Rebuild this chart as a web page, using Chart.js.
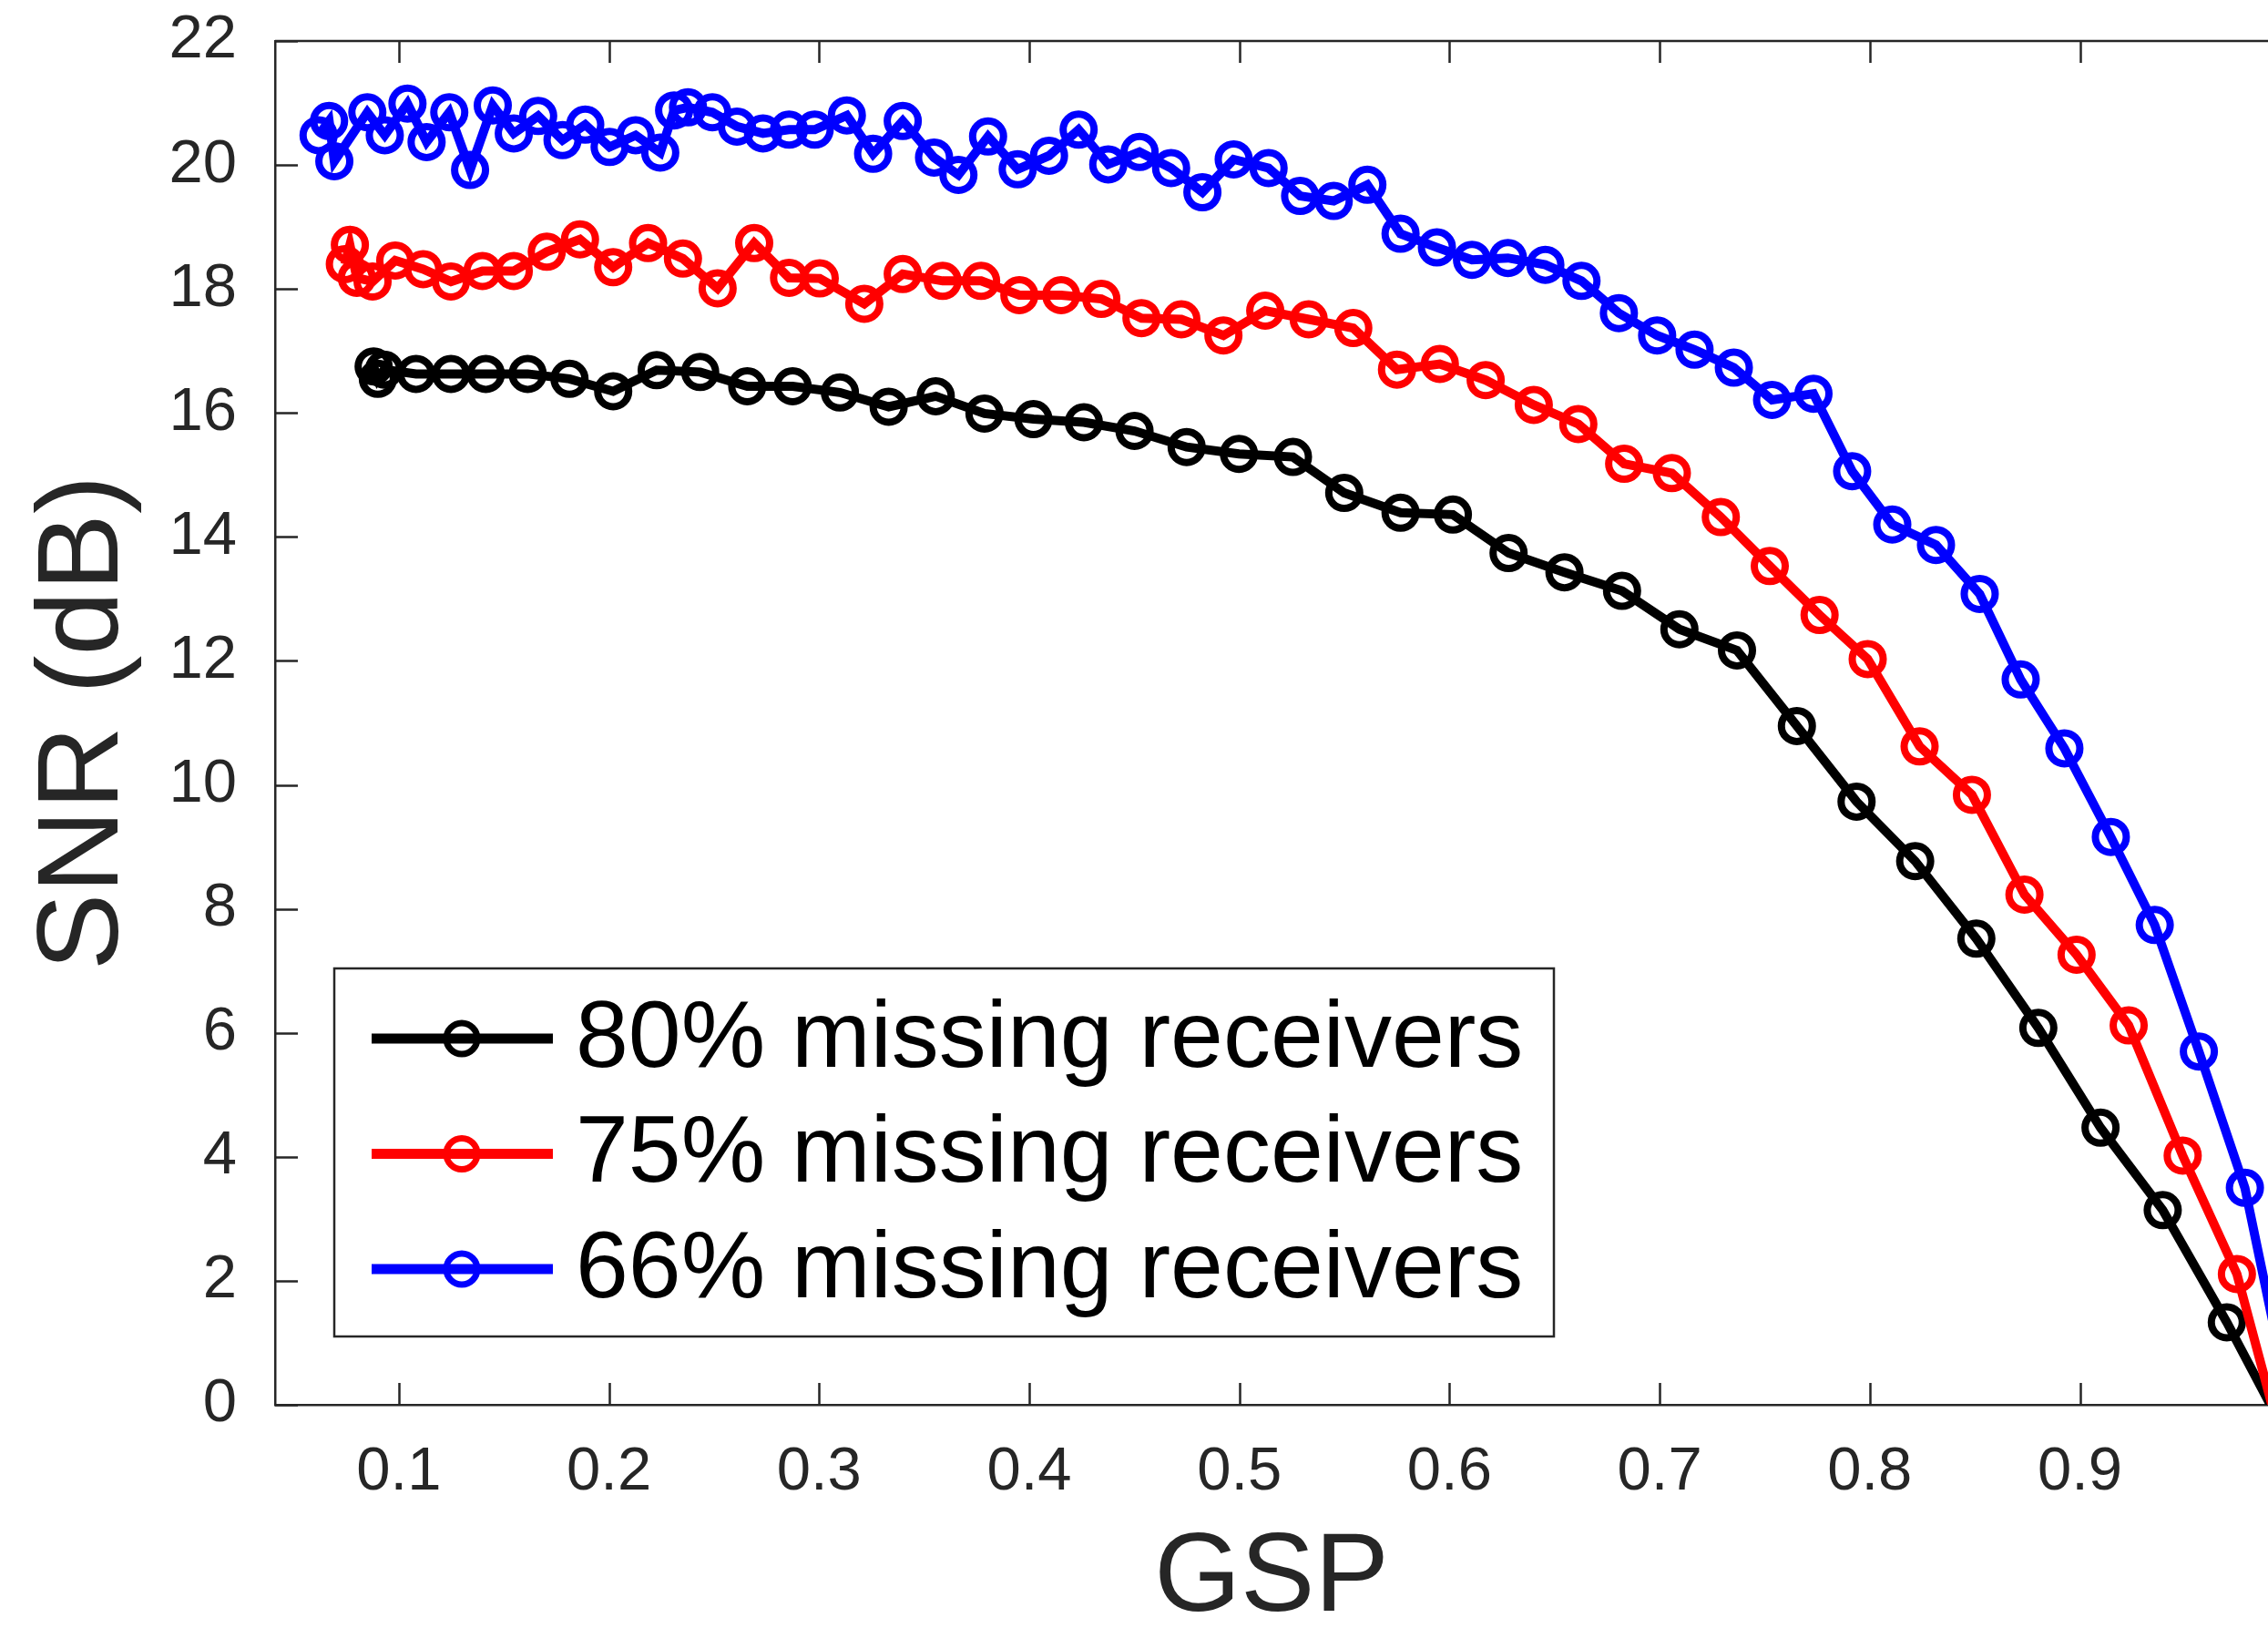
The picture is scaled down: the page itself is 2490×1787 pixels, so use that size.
<!DOCTYPE html>
<html>
<head>
<meta charset="utf-8">
<script src="https://cdn.jsdelivr.net/npm/chart.js@4.4.1/dist/chart.umd.min.js"></script>
<style>
html, body { margin: 0; padding: 0; background: #ffffff; }
#wrap { position: relative; width: 2490px; height: 1787px; }
canvas { display: block; }
</style>
</head>
<body>
<div id="wrap"><canvas id="c" width="2490" height="1787"></canvas></div>
<script>
// ---------------- data ----------------
const seriesNames = ['80% missing receivers', '75% missing receivers', '66% missing receivers'];
const seriesColors = ['#000000', '#ff0000', '#0000ff'];

const gsp80 = [0.0880, 0.0900, 0.0930, 0.1082, 0.1248, 0.1414, 0.1613, 0.1812, 0.2020, 0.2227,
  0.2434, 0.2658, 0.2874, 0.3099, 0.3331, 0.3555, 0.3787, 0.4020, 0.4260, 0.4501,
  0.4749, 0.4998, 0.5255, 0.5499, 0.5767, 0.6016, 0.6281, 0.6547, 0.6821, 0.7094,
  0.7368, 0.7653, 0.7937, 0.8216, 0.8507, 0.8802, 0.9098, 0.9394, 0.9699, 1.0];
const snr80 = [16.75, 16.55, 16.70, 16.63, 16.63, 16.63, 16.63, 16.55, 16.35, 16.69,
  16.66, 16.43, 16.43, 16.33, 16.10, 16.27, 15.99, 15.90, 15.85, 15.71,
  15.45, 15.34, 15.29, 14.71, 14.39, 14.36, 13.74, 13.43, 13.13, 12.51,
  12.17, 10.95, 9.73, 8.77, 7.52, 6.08, 4.47, 3.14, 1.33, -0.6];

const gsp75 = [0.0743, 0.0767, 0.0800, 0.0875, 0.0983, 0.1116, 0.1248, 0.1398, 0.1547, 0.1704,
  0.1862, 0.2020, 0.2186, 0.2352, 0.2517, 0.2691, 0.2857, 0.3003, 0.3215, 0.3398,
  0.3588, 0.3771, 0.3953, 0.4152, 0.4343, 0.4534, 0.4724, 0.4924, 0.5123, 0.5330,
  0.5542, 0.5750, 0.5954, 0.6172, 0.6401, 0.6613, 0.6831, 0.7058, 0.7291, 0.7524,
  0.7761, 0.7990, 0.8237, 0.8486, 0.8736, 0.8984, 0.9232, 0.9489, 0.9747, 1.0];
const snr75 = [18.40, 18.71, 18.18, 18.12, 18.46, 18.32, 18.12, 18.29, 18.29, 18.60,
  18.80, 18.35, 18.74, 18.49, 18.01, 18.74, 18.18, 18.17, 17.76, 18.24,
  18.13, 18.13, 17.90, 17.90, 17.84, 17.53, 17.51, 17.25, 17.65, 17.51,
  17.37, 16.70, 16.79, 16.53, 16.13, 15.82, 15.18, 15.03, 14.32, 13.53,
  12.74, 12.03, 10.62, 9.84, 8.23, 7.26, 6.12, 4.02, 2.11, -1.1];

const gsp66 = [0.0618, 0.0668, 0.0693, 0.0850, 0.0933, 0.1041, 0.1132, 0.1240, 0.1339, 0.1447,
  0.1547, 0.1663, 0.1779, 0.1887, 0.2003, 0.2127, 0.2244, 0.2310, 0.2376, 0.2492,
  0.2609, 0.2733, 0.2857, 0.2979, 0.3132, 0.3257, 0.3398, 0.3547, 0.3663, 0.3804,
  0.3945, 0.4094, 0.4235, 0.4376, 0.4525, 0.4675, 0.4824, 0.4973, 0.5139, 0.5289,
  0.5449, 0.5609, 0.5767, 0.5940, 0.6107, 0.6278, 0.6456, 0.6628, 0.6806, 0.6988,
  0.7166, 0.7353, 0.7535, 0.7732, 0.7916, 0.8107, 0.8315, 0.8523, 0.8718, 0.8926,
  0.9147, 0.9356, 0.9566, 0.9785, 1.0];
const snr66 = [20.48, 20.71, 20.06, 20.85, 20.48, 20.99, 20.37, 20.85, 19.92, 20.96,
  20.51, 20.79, 20.40, 20.65, 20.29, 20.48, 20.20, 20.88, 20.93, 20.85,
  20.62, 20.51, 20.57, 20.57, 20.80, 20.18, 20.71, 20.12, 19.84, 20.46,
  19.93, 20.15, 20.57, 20.01, 20.21, 19.95, 19.56, 20.09, 19.95, 19.50,
  19.42, 19.68, 18.89, 18.67, 18.47, 18.50, 18.39, 18.13, 17.61, 17.25,
  17.02, 16.73, 16.21, 16.31, 15.06, 14.20, 13.87, 13.08, 11.70, 10.59,
  9.16, 7.74, 5.70, 3.50, 0.0];

const xTickValues = [0.1, 0.2, 0.3, 0.4, 0.5, 0.6, 0.7, 0.8, 0.9];
const xTickLabels = ['0.1', '0.2', '0.3', '0.4', '0.5', '0.6', '0.7', '0.8', '0.9'];
const yTickValues = [0, 2, 4, 6, 8, 10, 12, 14, 16, 18, 20, 22];
const yTickLabels = ['0', '2', '4', '6', '8', '10', '12', '14', '16', '18', '20', '22'];
const xTitle = 'GSP';
const yTitle = 'SNR (dB)';
const xRange = [0.0411, 0.9895];
const yRange = [0, 22];

// ---------------- styling ----------------
const FONT = "'Liberation Sans', Arial, sans-serif";
const AXIS = '#262626';

function pairs(xs, ys) { return xs.map((x, i) => ({ x: x, y: ys[i] })); }
function labelFor(values, labels, v) {
  const i = values.findIndex(t => Math.abs(t - v) < 1e-9);
  return i >= 0 ? labels[i] : '';
}

const allX = [gsp80, gsp75, gsp66];
const allY = [snr80, snr75, snr66];
const datasets = seriesNames.map((name, i) => ({
  label: name,
  data: pairs(allX[i], allY[i]),
  borderColor: seriesColors[i],
  backgroundColor: seriesColors[i],
  pointBorderColor: seriesColors[i],
  pointBackgroundColor: 'rgba(0,0,0,0)',
  borderWidth: 10,
  pointRadius: 17,
  pointHoverRadius: 17,
  pointBorderWidth: 8,
  pointStyle: 'circle',
  tension: 0,
  fill: false,
  order: 3 - i
}));

const axesPlugin = {
  id: 'matlabAxes',
  beforeDatasetsDraw(chart) {
    const { ctx, chartArea: a, scales } = chart;
    const x = scales.x, y = scales.y;
    ctx.save();
    ctx.strokeStyle = AXIS;
    ctx.lineWidth = 2.5;
    ctx.beginPath();
    ctx.moveTo(a.left, a.top);
    ctx.lineTo(a.right, a.top);
    x.ticks.forEach(t => {
      const px = Math.round(x.getPixelForValue(t.value)) + 0.5;
      ctx.moveTo(px, a.bottom); ctx.lineTo(px, a.bottom - 24);
      ctx.moveTo(px, a.top); ctx.lineTo(px, a.top + 24);
    });
    y.ticks.forEach(t => {
      const py = Math.round(y.getPixelForValue(t.value)) + 0.5;
      ctx.moveTo(a.left, py); ctx.lineTo(a.left + 25, py);
    });
    ctx.stroke();
    ctx.restore();
  }
};

const legendPlugin = {
  id: 'boxLegend',
  afterDraw(chart) {
    const ctx = chart.ctx;
    const bx = 367, by = 1063, bw = 1339, bh = 404;
    ctx.save();
    ctx.fillStyle = '#ffffff';
    ctx.fillRect(bx, by, bw, bh);
    ctx.strokeStyle = AXIS;
    ctx.lineWidth = 2.5;
    ctx.strokeRect(bx, by, bw, bh);
    chart.data.datasets.forEach((ds, i) => {
      const cy = 1140 + i * 126.5;
      ctx.strokeStyle = ds.borderColor;
      ctx.lineWidth = 11;
      ctx.beginPath();
      ctx.moveTo(408, cy); ctx.lineTo(607, cy);
      ctx.stroke();
      ctx.lineWidth = 7;
      ctx.beginPath();
      ctx.arc(507, cy, 17, 0, Math.PI * 2);
      ctx.stroke();
      ctx.fillStyle = '#000000';
      ctx.font = '104px ' + FONT;
      ctx.textBaseline = 'middle';
      ctx.textAlign = 'left';
      ctx.fillText(ds.label, 632, cy + 2);
    });
    ctx.restore();
  }
};

new Chart(document.getElementById('c'), {
  type: 'line',
  data: { datasets: datasets },
  plugins: [axesPlugin, legendPlugin],
  options: {
    responsive: false,
    devicePixelRatio: 1,
    animation: false,
    events: [],
    layout: { autoPadding: false, padding: { top: 45, right: 0, left: 0, bottom: 0 } },
    plugins: { legend: { display: false }, tooltip: { enabled: false } },
    scales: {
      x: {
        type: 'linear',
        min: xRange[0],
        max: xRange[1],
        grid: { display: false },
        border: { display: true, color: AXIS, width: 2.5 },
        afterBuildTicks: s => { s.ticks = xTickValues.map(v => ({ value: v })); },
        afterFit: s => { s.height = 245; s.paddingLeft = 0; s.paddingRight = 0; },
        ticks: {
          autoSkip: false, maxRotation: 0, minRotation: 0,
          color: AXIS, padding: 26,
          font: { family: FONT, size: 67 },
          callback: v => labelFor(xTickValues, xTickLabels, v)
        },
        title: {
          display: true, text: xTitle, color: AXIS,
          font: { family: FONT, size: 122, lineHeight: 0.8 },
          padding: { top: 0, bottom: 4 }
        }
      },
      y: {
        type: 'linear',
        min: yRange[0],
        max: yRange[1],
        grid: { display: false },
        border: { display: true, color: AXIS, width: 2.5 },
        afterBuildTicks: s => { s.ticks = yTickValues.map(v => ({ value: v })); },
        afterFit: s => { s.width = 302; s.paddingTop = 0; s.paddingBottom = 0; },
        ticks: {
          autoSkip: false,
          color: AXIS, padding: 34,
          font: { family: FONT, size: 67 },
          callback: v => labelFor(yTickValues, yTickLabels, v)
        },
        title: {
          display: true, text: yTitle, color: AXIS,
          font: { family: FONT, size: 127, lineHeight: 1.2 },
          padding: { top: 18, bottom: 0 }
        }
      }
    }
  }
});
</script>
</body>
</html>
